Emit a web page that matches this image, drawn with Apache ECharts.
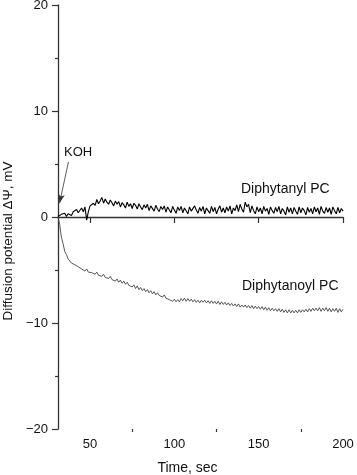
<!DOCTYPE html>
<html>
<head>
<meta charset="utf-8">
<script src="https://cdn.jsdelivr.net/npm/echarts@6/dist/echarts.min.js"></script>
<style>html,body{margin:0;padding:0;background:#fff}#c{width:357px;height:475px}</style>
</head>
<body>
<div id="c"></div>
<script>
// Sampling of both recordings: one reading per second starting at t = 31 s
const timeStart = 31;
const timeStep = 1;

// Diffusion potential (mV), Diphytanyl PC, t = 31..200 s
const diphytanylPC = [
  0.05, -0.10, 0.25, 0.15, 0.35, 0.05, 0.30, 0.45, 0.15, 0.50,
  0.35, 0.70, 0.40, 0.55, 0.85, 0.50, 0.95, -0.30, 0.50, 1.05,
  0.90, 1.30, 1.10, 1.65, 1.25, 1.50, 1.85, 1.30, 1.70, 1.40,
  1.20, 1.60, 1.35, 1.05, 1.50, 1.20, 1.45, 0.95, 1.35, 1.15,
  0.85, 1.40, 1.00, 1.25, 0.80, 1.30, 1.10, 0.75, 1.25, 0.95,
  0.70, 1.15, 0.85, 1.20, 0.60, 1.05, 0.90, 0.55, 1.10, 0.75,
  0.50, 1.00, 0.70, 1.05, 0.45, 0.95, 0.80, 0.40, 1.00, 0.65,
  0.35, 0.95, 0.60, 1.00, 0.40, 0.85, 0.70, 0.30, 0.95, 0.55,
  0.40, 1.05, 0.65, 0.35, 0.90, 0.55, 1.00, 0.30, 0.85, 0.60,
  0.35, 1.00, 0.50, 0.90, 0.30, 0.75, 1.05, 0.45, 0.85, 0.40,
  0.95, 0.55, 1.05, 0.30, 0.85, 0.60, 1.15, 0.50, 1.20, 0.75,
  0.45, 1.40, 0.95, 1.20, 0.40, 1.05, 0.60, 0.30, 0.95, 0.50,
  0.85, 0.30, 1.00, 0.55, 0.80, 0.25, 0.95, 0.60, 0.35, 0.90,
  0.50, 1.00, 0.30, 0.80, 0.55, 0.20, 0.95, 0.45, 0.85, 0.30,
  0.90, 0.55, 0.25, 0.95, 0.40, 0.85, 0.60, 0.20, 0.90, 0.45,
  0.80, 0.30, 0.95, 0.50, 0.85, 0.25, 1.00, 0.55, 0.35, 0.90,
  0.45, 0.85, 0.25, 0.95, 0.60, 0.30, 0.90, 0.40, 0.80, 0.55
];

// Diffusion potential (mV), Diphytanoyl PC, t = 31..200 s
const diphytanoylPC = [
  0.00, -0.70, -1.90, -2.50, -3.25, -3.55, -3.95, -4.05, -4.35, -4.30,
  -4.50, -4.40, -4.70, -4.60, -4.90, -4.75, -5.10, -4.90, -5.20, -5.05,
  -5.25, -5.10, -5.40, -5.20, -5.50, -5.35, -5.60, -5.40, -5.70, -5.55,
  -5.80, -5.60, -5.90, -5.75, -6.05, -5.85, -6.15, -5.95, -6.25, -6.05,
  -6.35, -6.15, -6.45, -6.30, -6.60, -6.40, -6.75, -6.50, -6.85, -6.65,
  -6.95, -6.75, -7.05, -6.85, -7.15, -6.95, -7.25, -7.05, -7.35, -7.15,
  -7.40, -7.25, -7.55, -7.35, -7.65, -7.50, -7.80, -7.65, -7.95, -7.75,
  -8.00, -7.80, -8.00, -7.70, -7.90, -7.65, -7.95, -7.70, -7.95, -7.75,
  -8.00, -7.80, -8.05, -7.85, -8.10, -7.85, -8.05, -7.85, -8.10, -7.90,
  -8.15, -7.90, -8.15, -7.95, -8.20, -7.95, -8.25, -8.00, -8.25, -8.05,
  -8.30, -8.10, -8.35, -8.15, -8.40, -8.20, -8.45, -8.20, -8.50, -8.30,
  -8.50, -8.30, -8.55, -8.35, -8.60, -8.35, -8.65, -8.40, -8.65, -8.45,
  -8.70, -8.45, -8.75, -8.50, -8.80, -8.55, -8.85, -8.60, -8.85, -8.65,
  -8.90, -8.65, -8.95, -8.70, -9.00, -8.75, -9.05, -8.75, -9.05, -8.80,
  -9.05, -8.80, -9.05, -8.75, -9.00, -8.75, -8.95, -8.70, -8.95, -8.65,
  -8.90, -8.60, -8.85, -8.60, -8.85, -8.55, -8.90, -8.60, -8.85, -8.55,
  -8.90, -8.60, -8.95, -8.65, -8.90, -8.60, -9.00, -8.65, -8.95, -8.70
];

// Axis ticks
const xRange = [31, 200];
const xMajorTicks = [50, 100, 150, 200];
const xMinorTicks = [75, 125, 175];
const yRange = [-20, 20];
const yInterval = 10;

// Annotation: KOH addition arrow (data coordinates: from, to)
const kohArrow = [[37.2, 5.2], [31.9, 1.3]];

const toPairs = vals => vals.map((v, i) => [timeStart + i * timeStep, v]);

const FONT = '"Liberation Sans", Arial, Helvetica, sans-serif';
const AX = '#333';
const TXT = '#111';

const chart = echarts.init(document.getElementById('c'), null, {renderer: 'canvas'});
chart.setOption({
  animation: false,
  backgroundColor: '#fff',
  grid: {left: 58, right: 14, top: 5, bottom: 46, containLabel: false, outerBoundsMode: 'none'},
  xAxis: [{
    type: 'value', min: xRange[0], max: xRange[1],
    name: 'Time, sec', nameLocation: 'middle', nameGap: 32,
    nameTextStyle: {fontFamily: FONT, fontSize: 14, color: TXT, padding: [0, 26, 0, 0]},
    axisLine: {lineStyle: {color: AX, width: 1.3}},
    axisTick: {customValues: xMajorTicks, length: 6, lineStyle: {color: AX, width: 1.2}},
    axisLabel: {customValues: xMajorTicks, margin: 9, fontFamily: FONT, fontSize: 13, color: TXT},
    splitLine: {show: false}
  }, {
    type: 'value', min: xRange[0], max: xRange[1], position: 'bottom',
    axisLine: {show: false},
    axisTick: {customValues: xMinorTicks, length: 3, lineStyle: {color: AX, width: 1.2}},
    axisLabel: {show: false},
    splitLine: {show: false}
  }],
  yAxis: {
    type: 'value', min: yRange[0], max: yRange[1], interval: yInterval,
    name: 'Diffusion potential \u0394\u03A8, mV', nameLocation: 'middle', nameGap: 42,
    nameTextStyle: {fontFamily: FONT, fontSize: 13.5, color: TXT, padding: [0, 48, 0, 0]},
    axisLine: {show: true, lineStyle: {color: AX, width: 1.3}},
    axisTick: {show: true, length: 6, lineStyle: {color: AX, width: 1.2}},
    minorTick: {show: true, splitNumber: 2, length: 3, lineStyle: {color: AX, width: 1.2}},
    axisLabel: {margin: 10, fontFamily: FONT, fontSize: 13, color: TXT,
      formatter: v => String(v).replace('-', '\u2212')},
    splitLine: {show: false}
  },
  series: [{
    name: 'Diphytanyl PC', type: 'line', showSymbol: false, symbol: 'none',
    data: toPairs(diphytanylPC),
    lineStyle: {color: '#000', width: 1.1},
    markLine: {
      silent: true, symbol: ['none', 'arrow'], symbolSize: [5, 9],
      label: {show: false},
      lineStyle: {color: '#333', width: 0.8, type: 'solid'},
      data: [[{coord: kohArrow[0]}, {coord: kohArrow[1]}]]
    }
  }, {
    name: 'Diphytanoyl PC', type: 'line', showSymbol: false, symbol: 'none',
    data: toPairs(diphytanoylPC),
    lineStyle: {color: '#444', width: 0.9}
  }],
  graphic: [
    {type: 'text', left: 64, top: 146, style: {text: 'KOH', font: '13px ' + FONT, fill: TXT}},
    {type: 'text', left: 241, top: 182, style: {text: 'Diphytanyl PC', font: '14px ' + FONT, fill: TXT}},
    {type: 'text', left: 242, top: 279, style: {text: 'Diphytanoyl PC', font: '14px ' + FONT, fill: TXT}}
  ]
});
</script>
</body>
</html>
